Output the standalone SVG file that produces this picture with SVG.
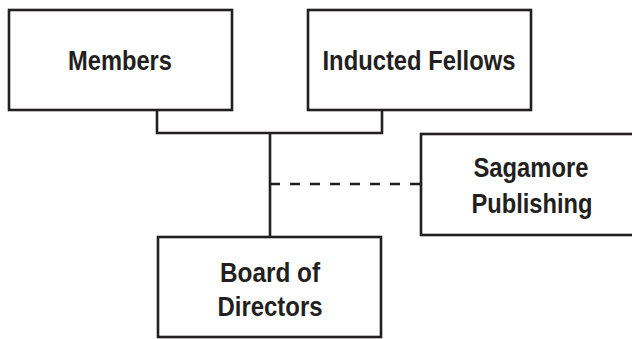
<svg xmlns="http://www.w3.org/2000/svg" width="632" height="339" viewBox="0 0 632 339">
<style>
.box{fill:#fff;stroke:#231f20;stroke-width:2.6}
.lbl{font-family:"Liberation Sans",Arial,sans-serif;font-weight:bold;font-size:27px;fill:#231f20;text-anchor:middle}
.conn{fill:none;stroke:#231f20;stroke-width:2.6}
.dash{stroke-dasharray:10 10}
</style>
<rect width="632" height="339" fill="#fff"/>
<g id="connectors">
<path class="conn" d="M157,110 V133 H382 V110"/>
<path class="conn" d="M270,133 V237"/>
<path class="conn dash" d="M270,184 H421"/>
</g>
<g id="members">
<rect class="box" x="9" y="10" width="223" height="100"/>
<text class="lbl" x="120" y="70" textLength="104" lengthAdjust="spacingAndGlyphs">Members</text>
</g>
<g id="fellows">
<rect class="box" x="308" y="10" width="223" height="100"/>
<text class="lbl" x="419" y="70" textLength="193" lengthAdjust="spacingAndGlyphs">Inducted Fellows</text>
</g>
<g id="sagamore">
<rect class="box" x="421" y="134" width="240" height="101"/>
<text class="lbl" x="531" y="177" textLength="115" lengthAdjust="spacingAndGlyphs">Sagamore</text>
<text class="lbl" x="532" y="213" textLength="121" lengthAdjust="spacingAndGlyphs">Publishing</text>
</g>
<g id="board">
<rect class="box" x="158" y="237" width="223" height="100"/>
<text class="lbl" x="270" y="282" textLength="100" lengthAdjust="spacingAndGlyphs">Board of</text>
<text class="lbl" x="270" y="316" textLength="105" lengthAdjust="spacingAndGlyphs">Directors</text>
</g>
</svg>
